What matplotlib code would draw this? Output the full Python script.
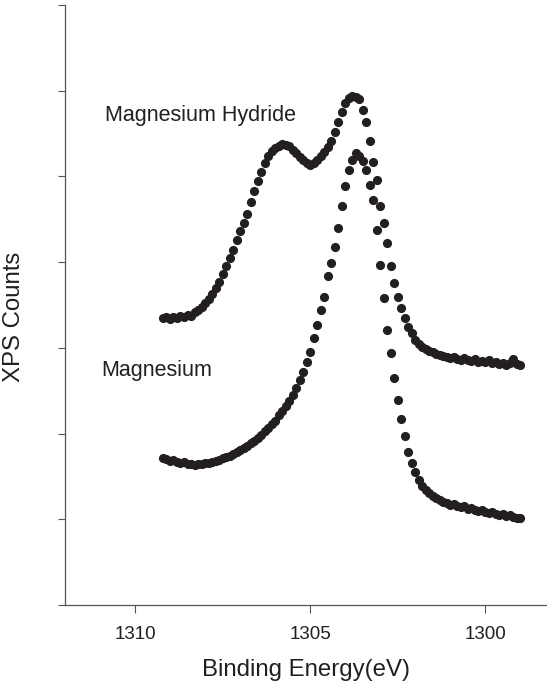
"""XPS Mg 1s spectra: magnesium hydride vs magnesium."""
import numpy as np
import matplotlib
matplotlib.use("Agg")
import matplotlib.pyplot as plt

plt.rcParams["font.family"] = ["Liberation Sans", "DejaVu Sans"]

INK = "#231f20"

# binding energy grid (eV)
energy = np.array([
    1309.2, 1309.1, 1309.0, 1308.9, 1308.8, 1308.7, 1308.6, 1308.5, 1308.4, 1308.3,
    1308.2, 1308.1, 1308.0, 1307.9, 1307.8, 1307.7, 1307.6, 1307.5, 1307.4, 1307.3,
    1307.2, 1307.1, 1307.0, 1306.9, 1306.8, 1306.7, 1306.6, 1306.5, 1306.4, 1306.3,
    1306.2, 1306.1, 1306.0, 1305.9, 1305.8, 1305.7, 1305.6, 1305.5, 1305.4, 1305.3,
    1305.2, 1305.1, 1305.0, 1304.9, 1304.8, 1304.7, 1304.6, 1304.5, 1304.4, 1304.3,
    1304.2, 1304.1, 1304.0, 1303.9, 1303.8, 1303.7, 1303.6, 1303.5, 1303.4, 1303.3,
    1303.2, 1303.1, 1303.0, 1302.9, 1302.8, 1302.7, 1302.6, 1302.5, 1302.4, 1302.3,
    1302.2, 1302.1, 1302.0, 1301.9, 1301.8, 1301.7, 1301.6, 1301.5, 1301.4, 1301.3,
    1301.2, 1301.1, 1301.0, 1300.9, 1300.8, 1300.7, 1300.6, 1300.5, 1300.4, 1300.3,
    1300.2, 1300.1, 1300.0, 1299.9, 1299.8, 1299.7, 1299.6, 1299.5, 1299.4, 1299.3,
    1299.2, 1299.1, 1299.0,
])

# counts (arbitrary units)
hydride = np.array([
    286, 287, 285, 287, 286, 288, 287, 289, 288, 292,
    294, 297, 301, 305, 310, 316, 322, 330, 338, 346,
    354, 364, 373, 381, 390, 402, 413, 423, 432, 441,
    448, 453, 456, 458, 460, 459, 458, 454, 451, 447,
    444, 441, 439, 441, 444, 448, 452, 457, 463, 472,
    482, 492, 501, 506, 508, 507, 505, 494, 482, 463,
    442, 424, 398, 381, 361, 338, 321, 307, 296, 286,
    277, 271, 264, 260, 257, 255, 253, 252, 250, 249,
    248, 247, 246, 247, 245, 244, 246, 244, 243, 245,
    242, 243, 242, 244, 241, 242, 240, 241, 239, 241,
    245, 240, 239,
])

magnesium = np.array([
    147, 146, 144, 145, 143, 142, 143, 141, 141, 140,
    141, 141, 142, 142, 143, 144, 145, 147, 148, 149,
    151, 153, 155, 157, 159, 162, 164, 167, 170, 174,
    177, 181, 184, 189, 193, 198, 203, 209, 216, 224,
    232, 242, 252, 266, 279, 294, 307, 328, 341, 357,
    376, 398, 418, 434, 444, 451, 448, 443, 434, 419,
    404, 374, 339, 306, 274, 251, 226, 204, 186, 169,
    153, 142, 133, 125, 119, 115, 112, 109, 107, 105,
    103, 102, 100, 101, 99, 98, 99, 96, 97, 95,
    94, 95, 93, 92, 93, 91, 90, 91, 89, 90,
    88, 87, 87,
])

fig = plt.figure(figsize=(5.47, 6.91), dpi=100)
ax = fig.add_axes([0.1188, 0.1245, 0.8812, 0.8683])

ax.plot(energy, hydride, "o", color=INK, ms=6.6, mec="none")
ax.plot(energy, magnesium, "o", color=INK, ms=6.6, mec="none")

ax.text(1310.85, 488, "Magnesium Hydride", fontsize=15.5, color=INK, va="center")
ax.text(1310.95, 234, "Magnesium", fontsize=15.5, color=INK, va="center")

ax.set_xlim(1312, 1298.23)
ax.set_ylim(0, 7 * 85.5)
ax.set_xticks([1310, 1305, 1300])
ax.set_yticks(np.arange(8) * 85.5)
ax.set_yticklabels([])
ax.tick_params(axis="x", direction="out", length=6, width=0.8, colors="#555555",
               labelcolor=INK, labelsize=13.5, pad=9)
ax.tick_params(axis="y", direction="out", length=5, width=0.8, colors="#555555")
for s in ("top", "right"):
    ax.spines[s].set_visible(False)
for s in ("left", "bottom"):
    ax.spines[s].set_color("#555555")
    ax.spines[s].set_linewidth(0.9)

ax.set_xlabel("Binding Energy(eV)", fontsize=17.3, color=INK, labelpad=12)
ax.set_ylabel("XPS Counts", fontsize=17.3, color=INK)
ax.yaxis.set_label_coords(-0.083, 0.48)

plt.savefig("out.png", dpi=100)
plt.close()
